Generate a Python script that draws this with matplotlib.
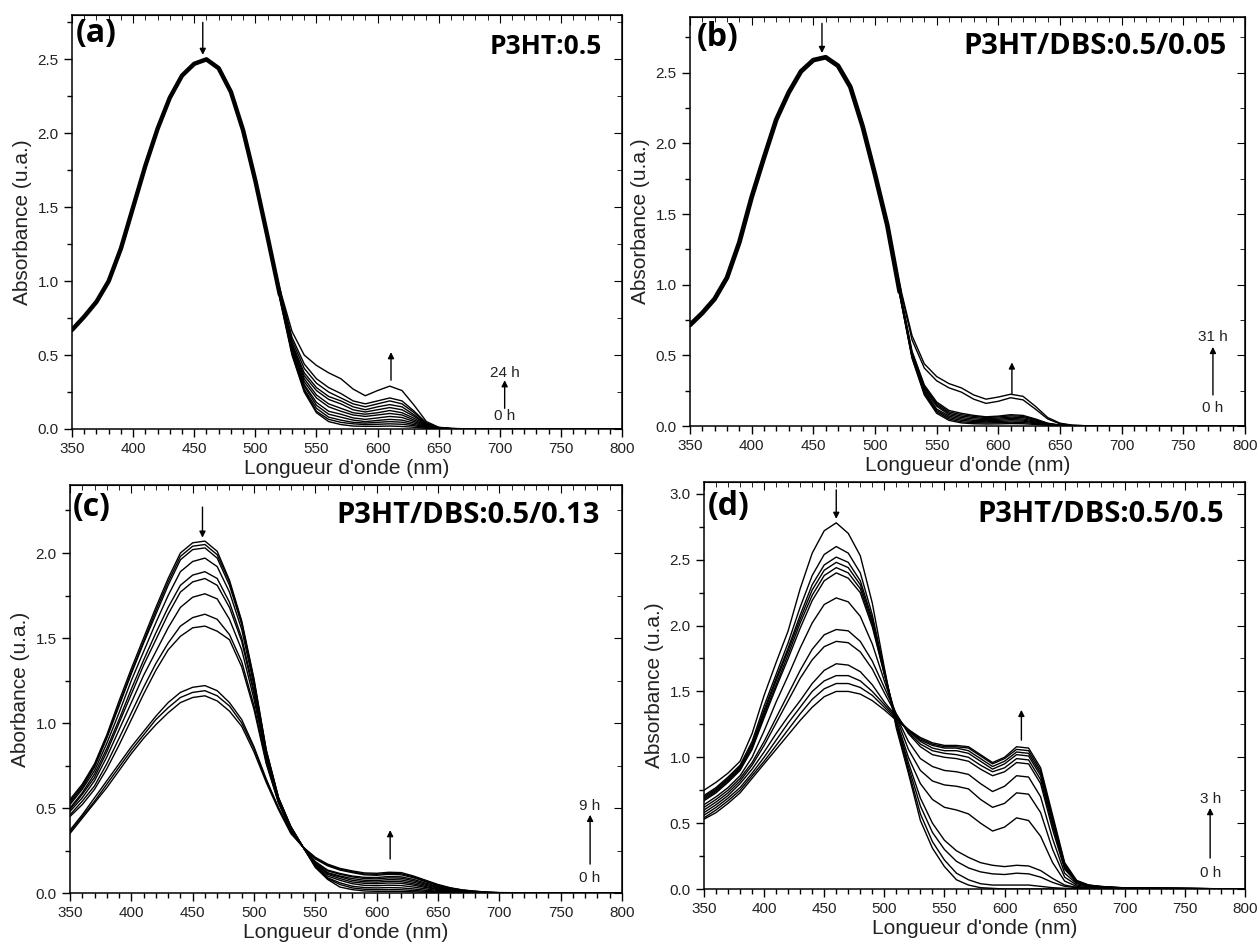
import matplotlib.pyplot as plt
from matplotlib.ticker import MultipleLocator, FormatStrFormatter

plt.rcParams['font.family'] = ['Liberation Sans', 'DejaVu Sans']

# wavelength grid (nm)
wl = [350, 360, 370, 380, 390, 400, 410, 420, 430, 440, 450, 460, 470, 480, 490, 500, 510,
      520, 530, 540, 550, 560, 570, 580, 590, 600, 610, 620, 630, 640, 650, 660, 670, 680, 690, 700, 800]
wl_main = wl[:18]

# (a) P3HT:0.5 -- common main band (350-510 nm) + tails from 0 h to 24 h (520-800 nm)
a_main = [0.67, 0.76, 0.86, 1.00, 1.22, 1.50, 1.78, 2.03, 2.24, 2.39, 2.47, 2.50, 2.44, 2.28, 2.02, 1.68, 1.30]
a_tails = [
    [0.95, 0.66, 0.50, 0.43, 0.38, 0.34, 0.27, 0.225, 0.26, 0.29, 0.26, 0.16, 0.05, 0.012, 0.004, 0.002, 0, 0, 0, 0],
    [0.94, 0.62, 0.44, 0.34, 0.28, 0.24, 0.19, 0.17, 0.19, 0.21, 0.19, 0.12, 0.04, 0.01, 0.003, 0.001, 0, 0, 0, 0],
    [0.93, 0.60, 0.41, 0.31, 0.25, 0.21, 0.17, 0.15, 0.17, 0.19, 0.17, 0.11, 0.037, 0.009, 0.003, 0.001, 0, 0, 0, 0],
    [0.92, 0.58, 0.38, 0.28, 0.22, 0.19, 0.15, 0.13, 0.15, 0.165, 0.15, 0.095, 0.033, 0.008, 0.003, 0.001, 0, 0, 0, 0],
    [0.92, 0.57, 0.36, 0.26, 0.20, 0.17, 0.13, 0.115, 0.13, 0.145, 0.13, 0.085, 0.03, 0.007, 0.002, 0.001, 0, 0, 0, 0],
    [0.91, 0.56, 0.34, 0.23, 0.17, 0.14, 0.11, 0.10, 0.11, 0.125, 0.11, 0.072, 0.026, 0.006, 0.002, 0.001, 0, 0, 0, 0],
    [0.91, 0.55, 0.32, 0.21, 0.15, 0.12, 0.095, 0.085, 0.095, 0.105, 0.095, 0.06, 0.022, 0.005, 0.002, 0.001, 0, 0, 0, 0],
    [0.90, 0.54, 0.30, 0.18, 0.12, 0.10, 0.075, 0.065, 0.075, 0.085, 0.078, 0.05, 0.018, 0.005, 0.002, 0.001, 0, 0, 0, 0],
    [0.90, 0.53, 0.29, 0.16, 0.10, 0.08, 0.06, 0.05, 0.058, 0.065, 0.06, 0.04, 0.015, 0.004, 0.001, 0, 0, 0, 0, 0],
    [0.89, 0.52, 0.27, 0.14, 0.08, 0.06, 0.045, 0.04, 0.045, 0.05, 0.046, 0.03, 0.012, 0.004, 0.001, 0, 0, 0, 0, 0],
    [0.89, 0.51, 0.26, 0.12, 0.065, 0.045, 0.035, 0.03, 0.032, 0.035, 0.032, 0.022, 0.009, 0.003, 0.001, 0, 0, 0, 0, 0],
    [0.88, 0.50, 0.25, 0.11, 0.05, 0.03, 0.02, 0.018, 0.018, 0.02, 0.017, 0.012, 0.005, 0.002, 0.001, 0, 0, 0, 0, 0],
]

# (b) P3HT/DBS:0.5/0.05 -- 0 h to 31 h
b_main = [0.715, 0.80, 0.90, 1.05, 1.30, 1.62, 1.90, 2.17, 2.36, 2.51, 2.59, 2.61, 2.55, 2.40, 2.12, 1.78, 1.42]
b_tails = [
    [1.00, 0.64, 0.44, 0.35, 0.30, 0.27, 0.22, 0.19, 0.205, 0.225, 0.21, 0.14, 0.06, 0.02, 0.006, 0.002, 0, 0, 0, 0],
    [0.99, 0.61, 0.41, 0.32, 0.27, 0.24, 0.19, 0.16, 0.175, 0.20, 0.185, 0.12, 0.05, 0.015, 0.005, 0.002, 0, 0, 0, 0],
    [0.96, 0.53, 0.29, 0.17, 0.11, 0.09, 0.075, 0.065, 0.07, 0.08, 0.075, 0.05, 0.02, 0.006, 0.002, 0.001, 0, 0, 0, 0],
    [0.96, 0.52, 0.28, 0.16, 0.10, 0.08, 0.068, 0.06, 0.064, 0.072, 0.068, 0.045, 0.018, 0.005, 0.002, 0.001, 0, 0, 0, 0],
    [0.95, 0.51, 0.27, 0.15, 0.09, 0.07, 0.06, 0.052, 0.056, 0.063, 0.06, 0.04, 0.016, 0.005, 0.002, 0.001, 0, 0, 0, 0],
    [0.95, 0.50, 0.26, 0.14, 0.08, 0.06, 0.05, 0.045, 0.048, 0.054, 0.05, 0.034, 0.014, 0.004, 0.001, 0, 0, 0, 0, 0],
    [0.94, 0.50, 0.25, 0.12, 0.07, 0.05, 0.04, 0.037, 0.04, 0.045, 0.042, 0.028, 0.012, 0.004, 0.001, 0, 0, 0, 0, 0],
    [0.94, 0.49, 0.24, 0.11, 0.06, 0.04, 0.032, 0.03, 0.032, 0.036, 0.034, 0.022, 0.01, 0.003, 0.001, 0, 0, 0, 0, 0],
    [0.93, 0.49, 0.23, 0.10, 0.05, 0.03, 0.024, 0.022, 0.024, 0.027, 0.025, 0.017, 0.008, 0.003, 0.001, 0, 0, 0, 0, 0],
    [0.93, 0.48, 0.22, 0.09, 0.04, 0.022, 0.016, 0.014, 0.015, 0.017, 0.016, 0.011, 0.006, 0.002, 0.001, 0, 0, 0, 0, 0],
]

# (c) P3HT/DBS:0.5/0.13 -- 0 h to 9 h
c_curves = [
    [0.55, 0.64, 0.76, 0.93, 1.13, 1.32, 1.50, 1.68, 1.85, 2.00, 2.06, 2.07, 2.01, 1.84, 1.60, 1.26, 0.84, 0.56, 0.39, 0.27,
     0.15, 0.08, 0.035, 0.02, 0.012, 0.01, 0.01, 0.009, 0.007, 0.005, 0.003, 0.002, 0.001, 0.001, 0, 0, 0],
    [0.54, 0.63, 0.75, 0.92, 1.11, 1.30, 1.48, 1.66, 1.83, 1.98, 2.04, 2.05, 1.99, 1.83, 1.59, 1.25, 0.84, 0.56, 0.39, 0.27,
     0.155, 0.085, 0.05, 0.03, 0.022, 0.02, 0.02, 0.019, 0.015, 0.01, 0.006, 0.004, 0.002, 0.001, 0, 0, 0],
    [0.53, 0.62, 0.74, 0.91, 1.10, 1.29, 1.47, 1.64, 1.81, 1.96, 2.02, 2.03, 1.97, 1.81, 1.58, 1.24, 0.83, 0.56, 0.39, 0.27,
     0.16, 0.09, 0.06, 0.04, 0.032, 0.03, 0.032, 0.03, 0.024, 0.016, 0.01, 0.006, 0.003, 0.002, 0.001, 0, 0],
    [0.52, 0.61, 0.72, 0.88, 1.06, 1.25, 1.42, 1.59, 1.75, 1.89, 1.95, 1.97, 1.92, 1.77, 1.55, 1.22, 0.82, 0.55, 0.39, 0.27,
     0.16, 0.10, 0.075, 0.055, 0.045, 0.043, 0.046, 0.044, 0.035, 0.024, 0.015, 0.009, 0.005, 0.003, 0.001, 0, 0],
    [0.50, 0.59, 0.70, 0.85, 1.02, 1.20, 1.37, 1.53, 1.68, 1.81, 1.87, 1.89, 1.85, 1.71, 1.50, 1.19, 0.81, 0.55, 0.38, 0.27,
     0.165, 0.11, 0.085, 0.065, 0.057, 0.055, 0.059, 0.057, 0.046, 0.032, 0.02, 0.012, 0.007, 0.004, 0.002, 0.001, 0],
    [0.49, 0.58, 0.68, 0.83, 1.00, 1.17, 1.34, 1.49, 1.64, 1.77, 1.83, 1.85, 1.81, 1.68, 1.48, 1.17, 0.80, 0.54, 0.38, 0.27,
     0.17, 0.115, 0.095, 0.075, 0.066, 0.064, 0.069, 0.067, 0.054, 0.038, 0.024, 0.014, 0.008, 0.004, 0.002, 0.001, 0],
    [0.48, 0.56, 0.66, 0.80, 0.96, 1.12, 1.28, 1.42, 1.56, 1.68, 1.74, 1.76, 1.73, 1.61, 1.43, 1.14, 0.79, 0.54, 0.38, 0.27,
     0.175, 0.12, 0.10, 0.085, 0.075, 0.073, 0.079, 0.077, 0.063, 0.045, 0.029, 0.017, 0.01, 0.005, 0.002, 0.001, 0],
    [0.46, 0.54, 0.63, 0.76, 0.91, 1.06, 1.21, 1.35, 1.47, 1.57, 1.62, 1.64, 1.61, 1.52, 1.36, 1.10, 0.77, 0.53, 0.37, 0.27,
     0.18, 0.13, 0.11, 0.095, 0.085, 0.083, 0.089, 0.087, 0.072, 0.052, 0.034, 0.02, 0.012, 0.006, 0.003, 0.001, 0],
    [0.45, 0.52, 0.61, 0.73, 0.87, 1.02, 1.17, 1.31, 1.43, 1.51, 1.56, 1.57, 1.54, 1.49, 1.33, 1.08, 0.76, 0.53, 0.37, 0.27,
     0.185, 0.135, 0.115, 0.10, 0.092, 0.091, 0.097, 0.095, 0.08, 0.058, 0.038, 0.023, 0.013, 0.007, 0.003, 0.001, 0],
    [0.37, 0.46, 0.56, 0.66, 0.76, 0.86, 0.95, 1.04, 1.12, 1.18, 1.21, 1.22, 1.19, 1.12, 1.02, 0.86, 0.67, 0.50, 0.36, 0.27,
     0.20, 0.16, 0.135, 0.12, 0.107, 0.104, 0.11, 0.107, 0.09, 0.066, 0.044, 0.027, 0.016, 0.009, 0.004, 0.002, 0],
    [0.36, 0.45, 0.54, 0.64, 0.74, 0.84, 0.93, 1.02, 1.09, 1.15, 1.18, 1.19, 1.16, 1.10, 1.00, 0.85, 0.66, 0.50, 0.36, 0.27,
     0.205, 0.165, 0.14, 0.125, 0.112, 0.11, 0.116, 0.113, 0.095, 0.07, 0.047, 0.029, 0.017, 0.01, 0.005, 0.002, 0],
    [0.35, 0.44, 0.53, 0.62, 0.72, 0.82, 0.91, 0.99, 1.06, 1.12, 1.15, 1.16, 1.13, 1.07, 0.98, 0.83, 0.65, 0.49, 0.35, 0.27,
     0.21, 0.17, 0.145, 0.13, 0.118, 0.116, 0.122, 0.12, 0.10, 0.075, 0.05, 0.031, 0.018, 0.011, 0.005, 0.002, 0],
]

# (d) P3HT/DBS:0.5/0.5 -- 0 h to 3 h
d_curves = [
    [0.75, 0.81, 0.88, 0.97, 1.18, 1.47, 1.72, 1.96, 2.28, 2.55, 2.72, 2.78, 2.70, 2.53, 2.17, 1.68, 1.22, 0.88, 0.52, 0.31,
     0.17, 0.07, 0.03, 0.01, 0.005, 0, 0, 0, 0, 0, 0, 0, 0, 0, 0, 0, 0],
    [0.71, 0.77, 0.85, 0.94, 1.12, 1.39, 1.63, 1.87, 2.14, 2.38, 2.54, 2.60, 2.55, 2.40, 2.08, 1.66, 1.24, 0.90, 0.57, 0.36,
     0.22, 0.12, 0.07, 0.04, 0.03, 0.03, 0.03, 0.03, 0.02, 0.01, 0.005, 0.003, 0.002, 0.002, 0.001, 0.001, 0],
    [0.70, 0.76, 0.84, 0.93, 1.10, 1.36, 1.60, 1.83, 2.08, 2.31, 2.46, 2.52, 2.48, 2.34, 2.05, 1.65, 1.26, 0.93, 0.63, 0.43,
     0.30, 0.21, 0.16, 0.13, 0.115, 0.11, 0.12, 0.115, 0.09, 0.05, 0.02, 0.01, 0.006, 0.004, 0.003, 0.002, 0],
    [0.69, 0.75, 0.83, 0.92, 1.09, 1.34, 1.58, 1.81, 2.05, 2.27, 2.42, 2.48, 2.44, 2.31, 2.03, 1.64, 1.27, 0.96, 0.69, 0.50,
     0.37, 0.29, 0.24, 0.20, 0.18, 0.17, 0.18, 0.175, 0.14, 0.08, 0.03, 0.012, 0.007, 0.005, 0.003, 0.002, 0],
    [0.68, 0.74, 0.82, 0.91, 1.07, 1.32, 1.55, 1.78, 2.02, 2.23, 2.38, 2.44, 2.40, 2.28, 2.01, 1.63, 1.28, 1.00, 0.80, 0.68,
     0.62, 0.60, 0.57, 0.50, 0.44, 0.47, 0.54, 0.52, 0.40, 0.20, 0.06, 0.02, 0.01, 0.007, 0.005, 0.003, 0],
    [0.67, 0.73, 0.81, 0.90, 1.06, 1.30, 1.53, 1.75, 1.98, 2.19, 2.34, 2.40, 2.36, 2.25, 1.99, 1.63, 1.30, 1.06, 0.90, 0.82,
     0.79, 0.78, 0.76, 0.68, 0.62, 0.65, 0.73, 0.72, 0.58, 0.30, 0.09, 0.03, 0.015, 0.01, 0.007, 0.005, 0],
    [0.64, 0.70, 0.77, 0.86, 1.00, 1.20, 1.42, 1.62, 1.83, 2.02, 2.16, 2.21, 2.18, 2.07, 1.86, 1.58, 1.31, 1.12, 0.99, 0.93,
     0.90, 0.89, 0.87, 0.80, 0.74, 0.78, 0.86, 0.85, 0.70, 0.38, 0.12, 0.04, 0.02, 0.013, 0.009, 0.006, 0],
    [0.62, 0.68, 0.75, 0.84, 0.96, 1.12, 1.30, 1.48, 1.66, 1.82, 1.93, 1.97, 1.96, 1.88, 1.73, 1.53, 1.33, 1.18, 1.08, 1.02,
     1.00, 0.99, 0.97, 0.91, 0.86, 0.89, 0.96, 0.95, 0.80, 0.45, 0.15, 0.05, 0.025, 0.016, 0.011, 0.008, 0],
    [0.60, 0.66, 0.73, 0.82, 0.94, 1.09, 1.26, 1.43, 1.60, 1.74, 1.84, 1.88, 1.87, 1.80, 1.67, 1.49, 1.32, 1.19, 1.10, 1.05,
     1.03, 1.02, 1.00, 0.94, 0.89, 0.92, 0.99, 0.98, 0.83, 0.48, 0.16, 0.05, 0.025, 0.016, 0.011, 0.008, 0],
    [0.58, 0.64, 0.71, 0.80, 0.91, 1.04, 1.18, 1.31, 1.43, 1.56, 1.66, 1.71, 1.70, 1.65, 1.55, 1.42, 1.31, 1.20, 1.12, 1.07,
     1.05, 1.05, 1.03, 0.97, 0.91, 0.95, 1.02, 1.01, 0.86, 0.50, 0.17, 0.055, 0.027, 0.017, 0.012, 0.008, 0],
    [0.56, 0.62, 0.69, 0.77, 0.88, 1.00, 1.13, 1.26, 1.38, 1.50, 1.58, 1.62, 1.62, 1.58, 1.50, 1.40, 1.30, 1.21, 1.13, 1.09,
     1.07, 1.07, 1.05, 0.99, 0.93, 0.97, 1.04, 1.03, 0.88, 0.52, 0.18, 0.06, 0.028, 0.018, 0.012, 0.008, 0],
    [0.54, 0.60, 0.67, 0.75, 0.86, 0.97, 1.09, 1.21, 1.33, 1.44, 1.52, 1.56, 1.56, 1.53, 1.47, 1.38, 1.29, 1.21, 1.14, 1.10,
     1.08, 1.08, 1.07, 1.01, 0.95, 0.99, 1.06, 1.05, 0.90, 0.54, 0.19, 0.06, 0.029, 0.019, 0.013, 0.009, 0],
    [0.53, 0.58, 0.65, 0.73, 0.84, 0.95, 1.06, 1.17, 1.28, 1.38, 1.46, 1.50, 1.50, 1.48, 1.43, 1.36, 1.28, 1.21, 1.15, 1.11,
     1.09, 1.09, 1.08, 1.02, 0.96, 1.00, 1.08, 1.07, 0.92, 0.56, 0.20, 0.065, 0.03, 0.02, 0.013, 0.009, 0],
]

W, H = 1259, 947
fig = plt.figure(figsize=(W / 100, H / 100), dpi=100)
txt_col = '#222222'


def make_ax(l, r, t, b, ymax, ylabel):
    ax = fig.add_axes([l / W, 1 - b / H, (r - l) / W, (b - t) / H])
    ax.set_xlim(350, 800)
    ax.set_ylim(0, ymax)
    ax.xaxis.set_major_locator(MultipleLocator(50))
    ax.xaxis.set_minor_locator(MultipleLocator(10))
    ax.yaxis.set_major_locator(MultipleLocator(0.5))
    ax.yaxis.set_minor_locator(MultipleLocator(0.25))
    ax.yaxis.set_major_formatter(FormatStrFormatter('%.1f'))
    ax.tick_params(which='major', length=6, width=1, labelsize=11, labelcolor=txt_col)
    ax.tick_params(which='minor', length=3.5, width=1)
    for s in ax.spines.values():
        s.set_linewidth(1.1)
    # inward ticks on top and right
    top = ax.secondary_xaxis('top')
    top.xaxis.set_major_locator(MultipleLocator(50))
    top.xaxis.set_minor_locator(MultipleLocator(10))
    top.tick_params(which='both', direction='in', labeltop=False)
    top.tick_params(which='major', length=6)
    top.tick_params(which='minor', length=3.5)
    right = ax.secondary_yaxis('right')
    right.yaxis.set_major_locator(MultipleLocator(0.5))
    right.yaxis.set_minor_locator(MultipleLocator(0.25))
    right.tick_params(which='both', direction='in', labelright=False)
    right.tick_params(which='major', length=6)
    right.tick_params(which='minor', length=3.5)
    ax.set_xlabel("Longueur d'onde (nm)", fontsize=15, color=txt_col, labelpad=2)
    ax.set_ylabel(ylabel, fontsize=15, color=txt_col, labelpad=4)
    return ax


def tags(ax, letter, title, lx, ly, tx, ty, tsize=20):
    ax.text(lx, ly, letter, transform=ax.transAxes, ha='left', va='top',
            fontsize=23, fontweight='bold', family='Open Sans')
    ax.text(tx, ty, title, transform=ax.transAxes, ha='right', va='center',
            fontsize=tsize, fontweight='bold', family='Open Sans')


def arrow(ax, x, y0, y1):
    ax.annotate('', xy=(x, y1), xytext=(x, y0),
                arrowprops=dict(arrowstyle='-|>', lw=1.0, color='k', mutation_scale=9,
                                shrinkA=0, shrinkB=0))


def time_marks(ax, x, y0, y1, top_txt, ytop, ybot):
    arrow(ax, x, y0, y1)
    ax.text(x, ytop, top_txt, ha='center', va='center', fontsize=11, color=txt_col)
    ax.text(x, ybot, '0 h', ha='center', va='center', fontsize=11, color=txt_col)


# (a)
ax = make_ax(72, 622, 15, 429, 2.80, 'Absorbance (u.a.)')
for t in a_tails:
    ax.plot(wl, a_main + t, color='k', lw=1.0)
ax.plot(wl_main, a_main + [a_tails[5][0]], color='k', lw=3.2, solid_capstyle='round')
tags(ax, '(a)', 'P3HT:0.5', 0.006, 0.995, 0.964, 0.925, tsize=19)
arrow(ax, 457, 2.75, 2.53)
arrow(ax, 611, 0.33, 0.52)
time_marks(ax, 704, 0.14, 0.33, '24 h', 0.38, 0.085)

# (b)
ax = make_ax(690, 1245, 17, 426, 2.895, 'Absorbance (u.a.)')
for t in b_tails:
    ax.plot(wl, b_main + t, color='k', lw=1.0)
ax.plot(wl_main, b_main + [b_tails[5][0]], color='k', lw=3.4, solid_capstyle='round')
tags(ax, '(b)', 'P3HT/DBS:0.5/0.05', 0.012, 0.99, 0.966, 0.927, tsize=21)
arrow(ax, 457, 2.85, 2.64)
arrow(ax, 611, 0.23, 0.45)
time_marks(ax, 774, 0.22, 0.56, '31 h', 0.63, 0.125)

# (c)
ax = make_ax(70, 622, 485, 893, 2.40, 'Aborbance (u.a.)')
for y in c_curves:
    ax.plot(wl, y, color='k', lw=1.0)
tags(ax, '(c)', 'P3HT/DBS:0.5/0.13', 0.005, 0.985, 0.96, 0.926, tsize=21)
arrow(ax, 458, 2.27, 2.09)
arrow(ax, 611, 0.20, 0.37)
time_marks(ax, 774, 0.17, 0.46, '9 h', 0.51, 0.09)

# (d)
ax = make_ax(704, 1245, 482, 889, 3.09, 'Absorbance (u.a.)')
for y in d_curves:
    ax.plot(wl, y, color='k', lw=1.0)
tags(ax, '(d)', 'P3HT/DBS:0.5/0.5', 0.007, 0.98, 0.961, 0.919, tsize=21)
arrow(ax, 460, 3.03, 2.81)
arrow(ax, 614, 1.13, 1.36)
time_marks(ax, 771, 0.235, 0.615, '3 h', 0.68, 0.12)

fig.savefig('out.png', dpi=100)
